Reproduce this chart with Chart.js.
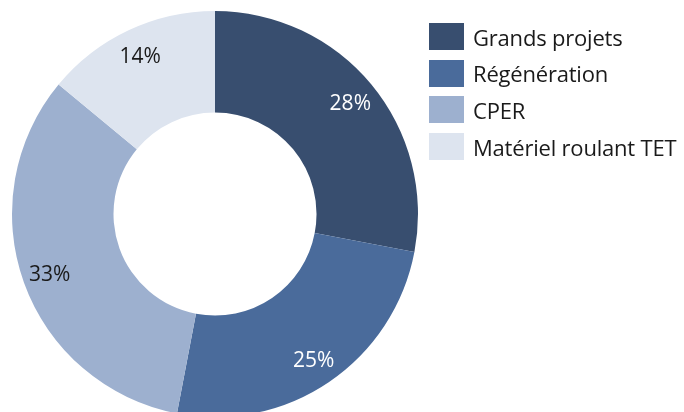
<!DOCTYPE html>
<html>
<head>
<meta charset="utf-8">
<script src="https://cdn.jsdelivr.net/npm/chart.js@4"></script>
<style>
  html, body { margin: 0; padding: 0; background: #fff; overflow: hidden; }
  body { width: 684px; height: 412px; position: relative; font-family: "Open Sans", Lato, sans-serif; }
  #chart-box { position: absolute; left: 0; top: 0; width: 430px; height: 430px; }
  #legend { position: absolute; left: 429px; top: 23px; }
  .item { display: flex; align-items: center; height: 27px; margin-bottom: 9.7px; }
  .swatch { width: 35px; height: 27px; margin-right: 9px; }
  .item span { font-size: 22px; color: #1a1a1a; white-space: nowrap; letter-spacing: -0.2px; }
</style>
</head>
<body>
<div id="chart-box"><canvas id="donut"></canvas></div>
<div id="legend"></div>
<script>
const labels = ["Grands projets", "Régénération", "CPER", "Matériel roulant TET"];
const values = [28, 25, 33, 14];
const colors = ["#384e6f", "#4a6b9b", "#9db0cf", "#dde4ef"];
const labelColors = ["#ffffff", "#ffffff", "#1a1a1a", "#1a1a1a"];

const legendBox = document.getElementById("legend");
for (let i = 0; i < labels.length; i++) {
    const row = document.createElement("div");
    row.className = "item";
    row.innerHTML = `<div class="swatch" style="background:${colors[i]}"></div><span>${labels[i]}</span>`;
    legendBox.append(row);
}

// draws the percentage inside each slice
const sliceLabels = {
    id: "sliceLabels",
    afterDatasetsDraw(chart) {
        const ctx = chart.ctx;
        const meta = chart.getDatasetMeta(0);
        ctx.save();
        ctx.font = "21px 'Open Sans', Lato, sans-serif";
        ctx.textAlign = "center";
        ctx.textBaseline = "middle";
        meta.data.forEach((arc, i) => {
            const p = arc.getProps(["x", "y", "startAngle", "endAngle", "innerRadius", "outerRadius"], true);
            const mid = (p.startAngle + p.endAngle) / 2;
            const r = p.innerRadius + (p.outerRadius - p.innerRadius) * 0.73;
            ctx.fillStyle = labelColors[i];
            ctx.fillText(values[i] + "%", p.x + Math.cos(mid) * r, p.y + Math.sin(mid) * r + 2);
        });
        ctx.restore();
    }
};

new Chart(document.getElementById("donut"), {
    type: "doughnut",
    data: {
        labels: labels,
        datasets: [{
            data: values,
            backgroundColor: colors,
            borderWidth: 0
        }]
    },
    options: {
        responsive: true,
        maintainAspectRatio: false,
        animation: false,
        cutout: "50%",
        layout: { padding: { left: 12, right: 12, top: 11, bottom: 13 } },
        plugins: {
            legend: { display: false },
            tooltip: { enabled: false }
        }
    },
    plugins: [sliceLabels]
});
</script>
</body>
</html>
